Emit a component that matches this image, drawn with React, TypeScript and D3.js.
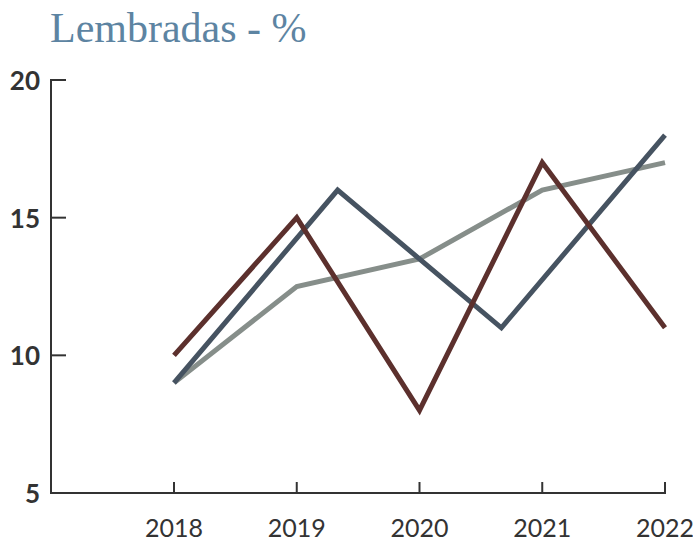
import React, { useRef, useEffect } from "react";
import * as d3 from "d3";

const years = [2018, 2019, 2020, 2021, 2022];
const yTicks = [5, 10, 15, 20];

// navy series is sampled at 4 evenly spaced points across the same span
const navyX = [2018, 2019.333, 2020.667, 2022];
const navyValues = [9, 16, 11, 18];
const grayValues = [9, 12.5, 13.5, 16, 17];
const brownValues = [10, 15, 8, 17, 11];

const App = () => {
  const svgRef = useRef<SVGSVGElement>(null);

  useEffect(() => {
    const svg = d3.select(svgRef.current);
    svg.selectAll("*").remove();

    const x = d3.scaleLinear().domain([2018, 2022]).range([174, 665]);
    const y = d3.scaleLinear().domain([5, 20]).range([493, 80]);
    const axisColor = "#333333";
    const tickFont = "Lato, 'Noto Sans', sans-serif";

    // Title
    svg
      .append("text")
      .attr("x", 50)
      .attr("y", 42)
      .attr("fill", "#5d84a2")
      .attr("font-family", "'Liberation Serif', 'DejaVu Serif', serif")
      .attr("font-size", 42)
      .text("Lembradas - %");

    // Y axis
    svg
      .append("line")
      .attr("x1", 51)
      .attr("x2", 51)
      .attr("y1", y(20) - 1)
      .attr("y2", y(5) + 1)
      .attr("stroke", axisColor)
      .attr("stroke-width", 2);

    svg
      .selectAll(".ytick")
      .data(yTicks)
      .enter()
      .append("line")
      .attr("x1", 51)
      .attr("x2", 66)
      .attr("y1", (d) => y(d))
      .attr("y2", (d) => y(d))
      .attr("stroke", axisColor)
      .attr("stroke-width", 2);

    svg
      .selectAll(".ylabel")
      .data(yTicks)
      .enter()
      .append("text")
      .attr("x", 40)
      .attr("y", (d) => y(d) + 10)
      .attr("text-anchor", "end")
      .attr("fill", axisColor)
      .attr("font-family", tickFont)
      .attr("font-weight", 700)
      .attr("font-size", 26)
      .text((d) => d);

    // X axis
    svg
      .append("line")
      .attr("x1", 50)
      .attr("x2", x(2022) + 1)
      .attr("y1", y(5))
      .attr("y2", y(5))
      .attr("stroke", axisColor)
      .attr("stroke-width", 2);

    svg
      .selectAll(".xtick")
      .data(years)
      .enter()
      .append("line")
      .attr("x1", (d) => x(d))
      .attr("x2", (d) => x(d))
      .attr("y1", y(5) - 11)
      .attr("y2", y(5))
      .attr("stroke", axisColor)
      .attr("stroke-width", 2);

    svg
      .selectAll(".xlabel")
      .data(years)
      .enter()
      .append("text")
      .attr("x", (d) => x(d))
      .attr("y", 537)
      .attr("text-anchor", "middle")
      .attr("fill", axisColor)
      .attr("font-family", tickFont)
      .attr("font-size", 25)
      .text((d) => d);

    const line = d3
      .line<[number, number]>()
      .x((d) => x(d[0]))
      .y((d) => y(d[1]));

    const series: { pts: [number, number][]; color: string }[] = [
      { pts: years.map((yr, i) => [yr, grayValues[i]]), color: "#868e8a" },
      { pts: navyX.map((yr, i) => [yr, navyValues[i]]), color: "#465361" },
      { pts: years.map((yr, i) => [yr, brownValues[i]]), color: "#5c302d" },
    ];

    series.forEach((s) => {
      svg
        .append("path")
        .datum(s.pts)
        .attr("d", line)
        .attr("fill", "none")
        .attr("stroke", s.color)
        .attr("stroke-width", 5)
        .attr("stroke-linejoin", "miter");
    });
  }, []);

  return (
    <svg
      ref={svgRef}
      width={693}
      height={541}
      style={{ position: "absolute", left: 0, top: 0, background: "#fff" }}
    ></svg>
  );
};

export default App;
